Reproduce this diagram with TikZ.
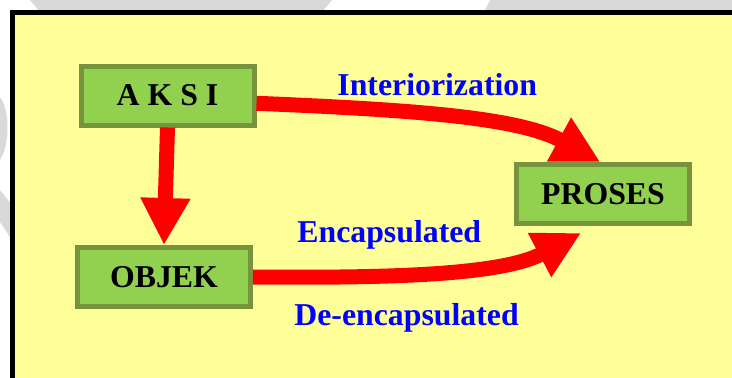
\documentclass[tikz,border=0pt]{standalone}
\usepackage{fontspec}
\setmainfont{Liberation Serif}
\usepackage{tikz}
\usepackage{xcolor}
\usetikzlibrary{arrows.meta}

\definecolor{panel}{HTML}{FFFF99}
\definecolor{boxfill}{HTML}{92D050}
\definecolor{boxline}{HTML}{77933C}
\definecolor{wmgray}{HTML}{D9D9D9}

\tikzset{
  box/.style={draw=boxline, line width=2.5pt, fill=boxfill, inner sep=0pt,
    minimum width=86.5pt, minimum height=29.5pt,
    font=\fontsize{15.9}{19}\selectfont\bfseries},
  redarrow/.style={draw=red, line width=7.5pt,
    -{Triangle[length=23.5pt, width=23.5pt]}},
  lbl/.style={text=blue, inner sep=0pt, anchor=base west,
    font=\fontsize{15.9}{19}\selectfont\bfseries}
}

\begin{document}
\begin{tikzpicture}[x=0.5pt, y=-0.5pt]
				\useasboundingbox (0,0) rectangle (732,377);
				\fill[white] (0,0) rectangle (732,377);
				
				% Watermark
				\fill[wmgray] (30,0) -- (332,0) -- (322,12) -- (40,12) -- cycle;
				\fill[wmgray] (490,0) -- (732,0) -- (732,12) -- (484,12) -- cycle;
				\fill[wmgray] (0,97) .. controls (10,110) and (10,145) .. (0,160) -- cycle;
				\fill[wmgray] (0,190) -- (12,205) -- (12,240) -- (0,222) -- cycle;
				
				% Panel
				\fill[panel] (12.5,12.5) rectangle (745,390);
				\draw[line width=2.5pt] (12.5,390) -- (12.5,12.5) -- (745,12.5);
				
				% Boxes
				\node[box] (aksi) at (167.5,95.5) {A K S I};
				\node[box] (objek) at (164,277) {OBJEK};
				\node[box] (proses) at (603,194) {PROSES};
				
				% Arrows
				\draw[redarrow] (aksi.south) -- (objek.north);
				\draw[redarrow] (aksi.-5) .. controls (420,110) and (520,118) .. (proses.95);
				\draw[redarrow] (objek.east) .. controls (380,278) and (500,276) .. ([xshift=-11pt,yshift=-3.5pt]proses.south);
				
				% Labels
				\node[lbl] (interior) at (337,95) {Interiorization};
				\node[lbl] (encap) at (297,242) {Encapsulated};
				\node[lbl] (deencap) at (294,325) {De-encapsulated};
			\end{tikzpicture}
\end{document}
